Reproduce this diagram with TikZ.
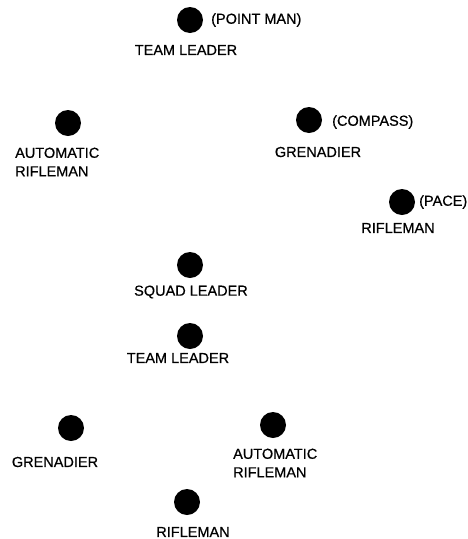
\documentclass[tikz,border=0pt]{standalone}
\usepackage{fontspec}
\setmainfont{Liberation Sans}[FakeBold=0.6]
\begin{document}
\begin{tikzpicture}[x=1pt,y=-1pt,
  dot/.style={circle,fill=black,inner sep=0pt,minimum size=26pt},
  lbl/.style={inner sep=0pt,font=\fontsize{14.5}{18.5}\selectfont},
  lbll/.style={lbl,align=left,anchor=west}]
\useasboundingbox (0,0) rectangle (467,539);
% dots
\node[dot] (pm) at (190,20) {};
\node[dot] (arl) at (68,123) {};
\node[dot] (cg) at (309,120) {};
\node[dot] (pr) at (402,202) {};
\node[dot] (sl) at (190,265) {};
\node[dot] (tl) at (190,336) {};
\node[dot] (gr) at (71,428) {};
\node[dot] (arr) at (273,425) {};
\node[dot] (rf) at (187,502) {};
% labels
\node[lbll] (pmn) at (211,20) {(POINT MAN)};
\node[lbl] (pml) at (186,50) {TEAM LEADER};
\node[lbll] (arll) at (15,162) {AUTOMATIC\\RIFLEMAN};
\node[lbll] (cgn) at (332,122) {(COMPASS)};
\node[lbl] (cgl) at (318,152) {GRENADIER};
\node[lbll] (prn) at (419,202) {(PACE)};
\node[lbl] (prl) at (398,228) {RIFLEMAN};
\node[lbl] (sll) at (191,292) {SQUAD LEADER};
\node[lbl] (tll) at (178,358) {TEAM LEADER};
\node[lbl] (grl) at (55,462) {GRENADIER};
\node[lbll] (arrl) at (233,463) {AUTOMATIC\\RIFLEMAN};
\node[lbl] (rfl) at (193,532) {RIFLEMAN};
\end{tikzpicture}
\end{document}
